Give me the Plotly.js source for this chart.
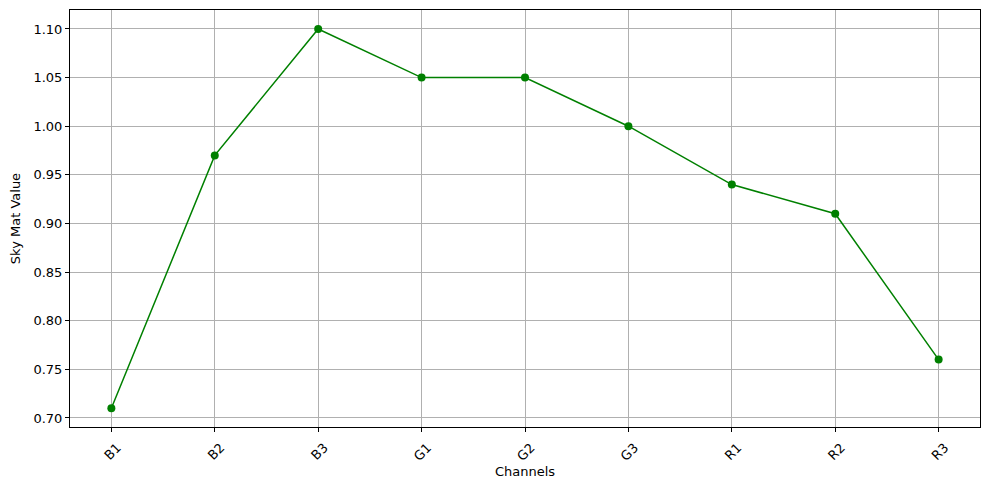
<!DOCTYPE html>
<html>
<head>
<meta charset="utf-8">
<script src="https://cdn.plot.ly/plotly-3.0.1.min.js"></script>
<style>html,body{margin:0;padding:0;background:#fff;}#chart{width:989px;height:490px;}</style>
</head>
<body>
<div id="chart"></div>
<script>
const channels = ["B1","B2","B3","G1","G2","G3","R1","R2","R3"];
const skyMatValues = [0.71, 0.97, 1.10, 1.05, 1.05, 1.00, 0.94, 0.91, 0.76];
const yTicks = [0.70, 0.75, 0.80, 0.85, 0.90, 0.95, 1.00, 1.05, 1.10];

const trace = {
  x: channels.map((_, i) => i),
  y: skyMatValues,
  type: "scatter",
  mode: "lines+markers",
  line: {color: "green", width: 1.5},
  marker: {color: "green", size: 8}
};

const font = {family: "DejaVu Sans", size: 13, color: "#000"};
const layout = {
  width: 989, height: 490,
  margin: {l: 70, r: 9, t: 10, b: 63},
  paper_bgcolor: "#fff", plot_bgcolor: "#fff",
  showlegend: false,
  font: font,
  xaxis: {
    range: [-0.4, 8.4],
    tickmode: "array",
    tickvals: channels.map((_, i) => i),
    ticktext: channels,
    tickangle: -45,
    ticklabelshift: 6,
    ticklabelstandoff: 3,
    showgrid: true, gridcolor: "#b0b0b0", gridwidth: 1,
    zeroline: false,
    showline: true, linecolor: "#000", linewidth: 1, mirror: true,
    ticks: "outside", ticklen: 4, tickcolor: "#000",
    title: {text: "Channels", font: font, standoff: 4}
  },
  yaxis: {
    range: [0.6907, 1.1195],
    tickmode: "array",
    tickvals: yTicks,
    ticktext: yTicks.map(v => v.toFixed(2)),
    showgrid: true, gridcolor: "#b0b0b0", gridwidth: 1,
    zeroline: false,
    showline: true, linecolor: "#000", linewidth: 1, mirror: true,
    ticks: "outside", ticklen: 4, tickcolor: "#000",
    title: {text: "Sky Mat Value", font: font, standoff: 9}
  }
};

Plotly.newPlot("chart", [trace], layout, {displayModeBar: false, staticPlot: true});
</script>
</body>
</html>
